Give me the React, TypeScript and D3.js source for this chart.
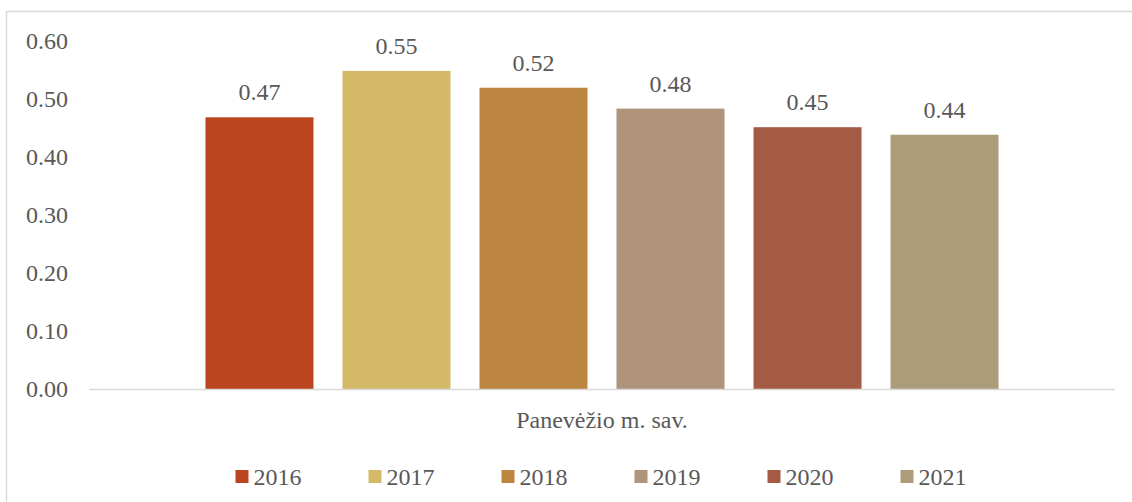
import * as React from 'react'
import {scaleBand, scaleLinear, format as d3Format} from 'd3'

const category = 'Panevėžio m. sav.'
const years = ['2016', '2017', '2018', '2019', '2020', '2021']
const values = [0.468, 0.548, 0.519, 0.483, 0.451, 0.438]
const colors = ['#BB451E', '#D4B969', '#BC8641', '#AF937A', '#A45A43', '#AD9C7A']
const yTicks = [0, 0.1, 0.2, 0.3, 0.4, 0.5, 0.6]

const W = 1132
const H = 502
const FONT = "'Liberation Serif', Tinos, 'Times New Roman', 'Noto Serif', 'DejaVu Serif', Times, serif"
const TEXT = '#595959'
const FS = 24

export default function App() {
  const plotLeft = 89
  const plotRight = 1115
  const y = scaleLinear().domain([0, 0.6]).range([389, 40.7])
  const x = scaleBand<string>()
    .domain(years)
    .range([plotLeft, plotRight])
    .paddingInner(0.2117)
    .paddingOuter(0.85)
  const fmt = d3Format('.2f')
  const legendStep = 133
  const legendStart = (plotLeft + plotRight) / 2 - (legendStep * (years.length - 1) + 68) / 2

  const txt = {fontFamily: FONT, fontSize: FS, fill: TEXT}

  return (
    <svg width={W} height={H} style={{position: 'absolute', left: 0, top: 0}}>
      <rect x={0} y={0} width={W} height={H} fill="#fff" />
      <rect x={6.5} y={11.5} width={W + 20} height={H + 20} fill="none" stroke="#d9d9d9" strokeWidth={1.5} />

      {yTicks.map(t => (
        <text key={t} x={68} y={y(t)} dy="0.35em" textAnchor="end" style={txt}>
          {fmt(t)}
        </text>
      ))}

      {years.map((yr, i) => (
        <g key={yr}>
          <rect x={x(yr)} y={y(values[i])} width={x.bandwidth()} height={y(0) - y(values[i])} fill={colors[i]} />
          <text x={(x(yr) as number) + x.bandwidth() / 2} y={y(values[i]) - 17} textAnchor="middle" style={txt}>
            {fmt(values[i])}
          </text>
        </g>
      ))}

      <line x1={plotLeft} x2={plotRight} y1={y(0) + 0.5} y2={y(0) + 0.5} stroke="#d9d9d9" strokeWidth={1.5} />

      <text x={(plotLeft + plotRight) / 2} y={420} dy="0.35em" textAnchor="middle" style={txt}>
        {category}
      </text>

      {years.map((yr, i) => {
        const lx = legendStart + i * legendStep
        return (
          <g key={'lg' + yr} transform={`translate(${lx},0)`}>
            <rect x={0} y={470} width={13} height={13} fill={colors[i]} />
            <text x={18} y={477} dy="0.35em" style={txt}>
              {yr}
            </text>
          </g>
        )
      })}
    </svg>
  )
}
